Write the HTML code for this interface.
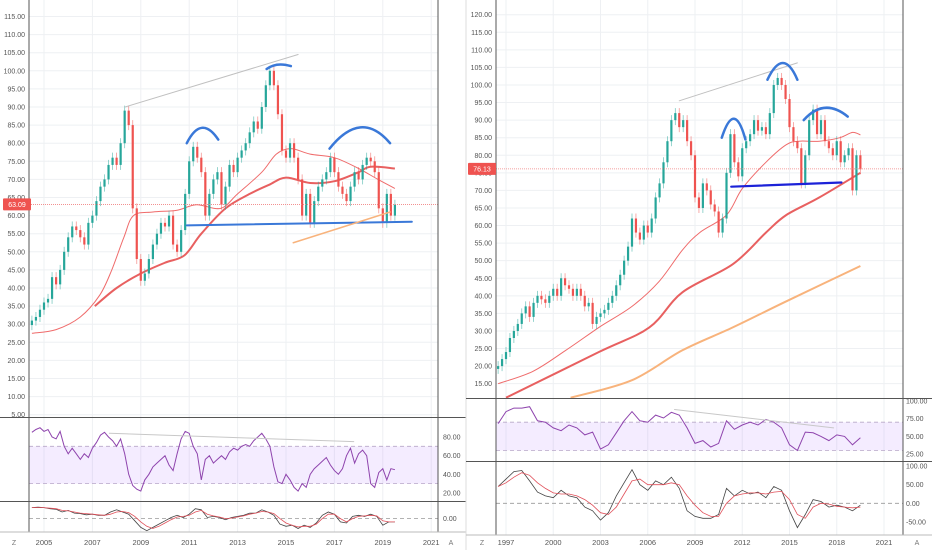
<!DOCTYPE html>
<html><head><meta charset="utf-8"><style>
html,body{margin:0;padding:0;background:#fff;}
svg{display:block;font-family:"Liberation Sans",sans-serif;}
</style></head><body>
<svg id="chart" width="932" height="550" viewBox="0 0 932 550" xmlns="http://www.w3.org/2000/svg">
<defs>
<clipPath id="clipLM"><rect x="29" y="0" width="409" height="417"/></clipPath>
<clipPath id="clipRM"><rect x="496" y="0" width="407" height="398"/></clipPath>
</defs>
</svg>
<script>
// ---------- LEFT PANEL DATA ----------
const leftStart = 2004.5, leftStep = 1/6;
const leftCloses = [31,32,34,36,37,43,41,45,50,54,57,56,54,52,58,60,64,68,70,74,76,74,80,89,85,62,48,42,44,48,52,55,58,57,60,52,50,56,66,75,79,76,72,60,66,70,72,63,68,74,72,76,78,80,83,86,84,90,96,100,96,88,78,76,80,76,70,60,66,58,64,68,70,72,76,72,68,66,64,68,72,70,74,76,75,72,62,58,66,60,63];
const leftPriceTicks = [5,10,15,20,25,30,35,40,45,50,55,60,65,70,75,80,85,90,95,100,105,110,115];
const leftYearTicks = [2005,2007,2009,2011,2013,2015,2017,2019,2021];
const leftMaThinT = [2004.5,2005.5,2006.5,2007.3,2007.8,2008.3,2008.7,2009.5,2010.5,2011.3,2012.3,2013,2014,2014.6,2015.2,2016,2017,2018,2018.8,2019.5];
const leftMaThinV = [27.5,28.5,32,38,45,54,60,61,61.5,63,62,66,72,77,78.5,77,76,73,70,67.5];
const leftMaThickT = [2007.1,2008,2009,2010,2010.8,2011.5,2012.5,2013.5,2014.3,2015,2016,2017,2018,2018.5,2019.5];
const leftMaThickV = [35,40,44,47,49,55,62,66,68.5,70.5,69,69.5,72,73.5,73];
const leftRsi = [85,88,90,86,88,80,78,86,70,62,68,62,56,62,58,68,74,82,85,80,76,70,78,62,40,28,24,22,34,40,48,52,56,60,50,44,62,78,86,84,70,62,34,56,60,52,56,60,56,64,68,66,70,72,70,76,80,84,78,70,48,32,30,40,34,26,22,30,26,40,46,50,54,58,50,44,40,46,60,68,52,62,66,60,30,26,42,46,34,46,45];
const leftRsiTicks = [20,40,60,80];
const leftMacdStart = 2004.5, leftMacdStep = 0.25;
const leftMacd = [1.0,1.05,1.0,0.9,0.85,0.6,0.75,0.5,0.45,0.35,0.4,0.3,0.3,0.6,0.8,0.6,0.4,-0.2,-0.8,-1.1,-0.8,-0.5,-0.2,0.1,0.3,0.1,0.4,0.9,0.8,0.1,0.2,0.1,-0.1,0.1,0.2,0.3,0.5,0.5,0.8,0.6,0.3,-0.5,-0.7,-0.6,-0.9,-0.6,-0.8,-0.4,0.3,0.6,0.4,-0.3,-0.4,0.2,0.3,0.2,0.4,0.2,-0.6,-0.3,-0.3];
const leftSignal = [1.0,1.0,1.0,0.95,0.9,0.75,0.7,0.6,0.5,0.45,0.4,0.35,0.3,0.4,0.6,0.65,0.55,0.2,-0.3,-0.7,-0.9,-0.7,-0.4,-0.1,0.15,0.2,0.3,0.6,0.75,0.4,0.25,0.15,0.0,0.05,0.15,0.25,0.4,0.5,0.65,0.6,0.45,0.0,-0.4,-0.6,-0.75,-0.7,-0.7,-0.5,0.0,0.4,0.4,0.0,-0.3,0.0,0.2,0.25,0.3,0.25,-0.2,-0.3,-0.3];
const leftLastPrice = 63.09;

// ---------- RIGHT PANEL DATA ----------
const rightStart = 1996.5, rightStep = 0.25;
const rightCloses = [20,22,24,28,30,32,35,37,34,38,40,39,38,40,42,40,45,43,42,40,42,40,37,38,32,34,35,36,38,40,43,46,50,54,62,58,56,60,58,62,68,72,78,84,90,92,88,90,84,80,68,65,72,70,66,64,58,62,75,86,78,74,82,84,86,90,87,88,86,92,100,102,100,96,88,84,82,72,80,90,93,86,90,84,82,80,84,78,80,82,70,80,76];
const rightPriceTicks = [15,20,25,30,35,40,45,50,55,60,65,70,75,80,85,90,95,100,105,110,115,120];
const rightYearTicks = [1997,2000,2003,2006,2009,2012,2015,2018,2021];
const rightMaThinT = [1996.5,1998.7,2000.8,2002.9,2005.0,2006.7,2008.2,2009.3,2011.0,2012.0,2013.5,2014.8,2015.6,2016.9,2018.2,2019.0,2019.5];
const rightMaThinV = [15,18.5,24.5,31,37,44,53,58,63,70.5,78,83,84,84,85,86.5,85.8];
const rightMaThickT = [1997,2002.9,2006.1,2008.2,2011.4,2013.5,2014.8,2016.9,2019.5];
const rightMaThickV = [11,24,31,41,49,58,63,68,75];
const rightMaOrangeT = [2001.1,2005.0,2008.2,2011.4,2014.6,2019.5];
const rightMaOrangeV = [11,16,24.5,31,38,48.5];
const rightIndStart = 1996.5, rightIndStep = 0.5;
const rightRsi = [68,85,90,90,92,72,70,62,58,66,62,52,56,32,38,55,72,85,72,70,80,76,84,80,62,40,44,35,40,72,60,66,70,66,74,70,62,38,30,56,55,50,44,52,50,38,48];
const rightRsiTicks = [25,50,75,100];
const rightMacd = [45,65,85,88,60,30,20,15,35,20,15,-10,-20,-45,-25,20,55,90,50,35,60,50,70,40,-20,-35,-40,-40,-30,40,20,35,25,30,15,45,35,-20,-65,-30,10,5,-10,-5,-10,-20,-5];
const rightSignal = [45,55,70,82,75,55,40,28,25,25,20,10,-5,-25,-30,-10,25,60,65,50,50,50,55,50,20,-5,-25,-35,-35,0,20,25,28,28,25,30,32,10,-30,-40,-10,0,-2,-8,-10,-12,-10];
const rightMacdTicks = [-50,0,50,100];
const rightLastPrice = 76.13;

// ---------- AXIS FUNCTIONS ----------
const xL = t => 44 + (t - 2005) * 24.2;
const yL = p => 16.5 + (115 - p) * 3.62;
const rsiL = v => 437 + (80 - v) * 0.933;
const macdL = v => 518.6 - v * 11;
const xR = t => 506 + (t - 1997) * 15.75;
const yR = p => 14.7 + (120 - p) * 3.514;
const rsiR = v => 401 + (100 - v) * 0.707;
const macdR = v => 466 + (100 - v) * 0.3733;

const NS = 'http://www.w3.org/2000/svg';
const svg = document.getElementById('chart');
function mk(tag, attrs, parent) {
  const e = document.createElementNS(NS, tag);
  for (const k in attrs) e.setAttribute(k, attrs[k]);
  (parent || svg).appendChild(e);
  return e;
}
function txt(x, y, s, anchor, color, size, parent) {
  const t = mk('text', {x: x, y: y, 'text-anchor': anchor, fill: color, 'font-size': size}, parent);
  t.textContent = s;
  return t;
}
function smoothPath(ts, vs, fx, fy) {
  const p = ts.map((t, i) => [fx(t), fy(vs[i])]);
  let d = 'M' + p[0][0].toFixed(1) + ',' + p[0][1].toFixed(1);
  for (let i = 0; i < p.length - 1; i++) {
    const p0 = p[Math.max(0, i - 1)], p1 = p[i], p2 = p[i + 1], p3 = p[Math.min(p.length - 1, i + 2)];
    const c1x = p1[0] + (p2[0] - p0[0]) / 6, c1y = p1[1] + (p2[1] - p0[1]) / 6;
    const c2x = p2[0] - (p3[0] - p1[0]) / 6, c2y = p2[1] - (p3[1] - p1[1]) / 6;
    d += ` C${c1x.toFixed(1)},${c1y.toFixed(1)} ${c2x.toFixed(1)},${c2y.toFixed(1)} ${p2[0].toFixed(1)},${p2[1].toFixed(1)}`;
  }
  return d;
}

// ---------- GRID ----------
const grid = mk('g', {stroke: '#eef0f3', 'stroke-width': 1});


leftPriceTicks.forEach(p => mk('line', {x1: 29, x2: 438, y1: yL(p), y2: yL(p)}, grid));
leftYearTicks.forEach(y => mk('line', {x1: xL(y), x2: xL(y), y1: 0, y2: 532}, grid));
rightPriceTicks.forEach(p => mk('line', {x1: 496, x2: 903, y1: yR(p), y2: yR(p)}, grid));
rightYearTicks.forEach(y => mk('line', {x1: xR(y), x2: xR(y), y1: 0, y2: 535}, grid));

// ---------- RSI BANDS ----------
function rsiBand(x1, x2, fy, name) {
  const g = mk('g', {});
  
  
  mk('rect', {x: x1, y: fy(70), width: x2 - x1, height: fy(30) - fy(70), fill: 'rgba(170,110,255,0.13)'}, g);
  mk('line', {x1: x1, x2: x2, y1: fy(70), y2: fy(70), stroke: '#b8a8c8', 'stroke-dasharray': '4,3', 'stroke-width': 0.8}, g);
  mk('line', {x1: x1, x2: x2, y1: fy(30), y2: fy(30), stroke: '#b8a8c8', 'stroke-dasharray': '4,3', 'stroke-width': 0.8}, g);
}
rsiBand(29, 438, rsiL, 'left-rsi-band');
rsiBand(496, 903, rsiR, 'right-rsi-band');
const z1 = mk('line', {x1: 29, x2: 438, y1: macdL(0), y2: macdL(0), stroke: '#999', 'stroke-dasharray': '4,3', 'stroke-width': 0.8});

const z2 = mk('line', {x1: 496, x2: 903, y1: macdR(0), y2: macdR(0), stroke: '#999', 'stroke-dasharray': '4,3', 'stroke-width': 0.8});


// ---------- CANDLES ----------
function candles(closes, start, step, fx, fy, w, clip, name) {
  const g = mk('g', {'clip-path': 'url(#' + clip + ')'});
  
  
  closes.forEach((c, i) => {
    const o = i === 0 ? c * 0.96 : closes[i - 1];
    const x = fx(start + i * step);
    const up = c >= o;
    const col = up ? '#26a69a' : '#ef5350';
    const yt = fy(Math.max(o, c)), yb = fy(Math.min(o, c));
    mk('line', {x1: x, x2: x, y1: yt - 5, y2: yb + 5, stroke: col, 'stroke-width': 0.8, opacity: 0.6}, g);
    const body = mk('rect', {x: x - w / 2, y: yt, width: w, height: Math.max(1, yb - yt), fill: col});
    g.appendChild(body);
    
    
  });
}

const lma1 = mk('path', {d: smoothPath(leftMaThinT, leftMaThinV, xL, yL), fill: 'none', stroke: '#ef6b6b', 'stroke-width': 1, 'clip-path': 'url(#clipLM)'});

const lma2 = mk('path', {d: smoothPath(leftMaThickT, leftMaThickV, xL, yL), fill: 'none', stroke: '#e86060', 'stroke-width': 2, 'clip-path': 'url(#clipLM)'});

const rma1 = mk('path', {d: smoothPath(rightMaThinT, rightMaThinV, xR, yR), fill: 'none', stroke: '#ef6b6b', 'stroke-width': 1, 'clip-path': 'url(#clipRM)'});

const rma2 = mk('path', {d: smoothPath(rightMaThickT, rightMaThickV, xR, yR), fill: 'none', stroke: '#e86060', 'stroke-width': 2, 'clip-path': 'url(#clipRM)'});

const rma3 = mk('path', {d: smoothPath(rightMaOrangeT, rightMaOrangeV, xR, yR), fill: 'none', stroke: '#f8b37c', 'stroke-width': 2, 'clip-path': 'url(#clipRM)'});


candles(leftCloses, leftStart, leftStep, xL, yL, 2.2, 'clipLM', 'left-candles');
candles(rightCloses, rightStart, rightStep, xR, yR, 2.2, 'clipRM', 'right-candles');

// ---------- LAST PRICE LINES ----------
const lp1 = mk('line', {x1: 29, x2: 438, y1: yL(leftLastPrice), y2: yL(leftLastPrice), stroke: '#f08080', 'stroke-width': 0.8, 'stroke-dasharray': '1,1'});

const lp2 = mk('line', {x1: 496, x2: 903, y1: yR(rightLastPrice), y2: yR(rightLastPrice), stroke: '#f08080', 'stroke-width': 0.8, 'stroke-dasharray': '1,1'});


// ---------- DRAWINGS ----------
function ln(x1, y1, x2, y2, col, w, name) {
  const l = mk('line', {x1: x1, y1: y1, x2: x2, y2: y2, stroke: col, 'stroke-width': w, 'stroke-linecap': 'round'});
  
  
}
function arc(x1, y1, cx, cy, x2, y2, name) {
  const p = mk('path', {d: `M${x1},${y1} Q${cx},${cy} ${x2},${y2}`, fill: 'none', stroke: '#3a78d8', 'stroke-width': 2.5, 'stroke-linecap': 'round'});
  
  
}
ln(xL(2008.35), yL(90), xL(2015.5), yL(104.5), '#c0c0c0', 1, 'left-trend-line');
ln(xL(2010.9), yL(57.3), xL(2020.2), yL(58.3), '#3a78d8', 2, 'left-neckline');
ln(xL(2015.3), yL(52.5), xL(2019.3), yL(61), '#f8b37c', 1.5, 'left-support-line');
arc(xL(2010.9), yL(80), xL(2011.5), yL(88), xL(2012.2), yL(81), 'left-shoulder-arc');
arc(xL(2014.2), yL(100.5), xL(2014.6), yL(102.5), xL(2015.2), yL(101.3), 'left-head-arc');
arc(xL(2016.8), yL(78.5), xL(2018.1), yL(89.5), xL(2019.3), yL(80), 'right-shoulder-arc');
ln(xR(2008.0), yR(95.5), xR(2015.5), yR(106.3), '#c0c0c0', 1, 'right-trend-line');
ln(xR(2011.3), yR(71.05), xR(2018.3), yR(72.25), '#1c22d8', 2.2, 'right-neckline');
arc(xR(2010.7), yR(85), xR(2011.5), yR(96), xR(2012.2), yR(84.5), 'right-left-shoulder-arc');
arc(xR(2013.6), yR(101.5), xR(2014.6), yR(111), xR(2015.5), yR(101.5), 'right-head-arc');
arc(xR(2015.9), yR(90), xR(2017.2), yR(96.5), xR(2018.7), yR(91), 'right-right-shoulder-arc');

// ---------- RSI / MACD LINES ----------
function seriesPts(vals, start, step, fx, fy) {
  return vals.map((v, i) => fx(start + i * step).toFixed(1) + ',' + fy(v).toFixed(1)).join(' ');
}
const r1 = mk('polyline', {points: seriesPts(leftRsi, leftStart, leftStep, xL, rsiL), fill: 'none', stroke: '#8e44ad', 'stroke-width': 1});

ln(xL(2007.7), rsiL(84), xL(2017.8), rsiL(75), '#c8c8c8', 1, 'left-rsi-trend-line');
const m1 = mk('polyline', {points: seriesPts(leftMacd, leftMacdStart, leftMacdStep, xL, macdL), fill: 'none', stroke: '#444', 'stroke-width': 0.8});

const s1 = mk('polyline', {points: seriesPts(leftSignal, leftMacdStart, leftMacdStep, xL, macdL), fill: 'none', stroke: '#e0505a', 'stroke-width': 0.8});

const r2 = mk('polyline', {points: seriesPts(rightRsi, rightIndStart, rightIndStep, xR, rsiR), fill: 'none', stroke: '#8e44ad', 'stroke-width': 1});

ln(xR(2007.7), rsiR(88), xR(2017.8), rsiR(62), '#c8c8c8', 1, 'right-rsi-trend-line');
const m2 = mk('polyline', {points: seriesPts(rightMacd, rightIndStart, rightIndStep, xR, macdR), fill: 'none', stroke: '#444', 'stroke-width': 0.8});

const s2 = mk('polyline', {points: seriesPts(rightSignal, rightIndStart, rightIndStep, xR, macdR), fill: 'none', stroke: '#e0505a', 'stroke-width': 0.8});


// ---------- FRAMES ----------
const frames = mk('g', {stroke: '#555', 'stroke-width': 1});

mk('line', {x1: 29, x2: 29, y1: 0, y2: 532}, frames);
mk('line', {x1: 438, x2: 438, y1: 0, y2: 532}, frames);
mk('line', {x1: 0, x2: 466, y1: 417.5, y2: 417.5}, frames);
mk('line', {x1: 0, x2: 466, y1: 501.5, y2: 501.5}, frames);
mk('line', {x1: 0, x2: 466, y1: 532, y2: 532, stroke: '#bbb'}, frames);
mk('line', {x1: 466, x2: 466, y1: 0, y2: 550, stroke: '#ddd'}, frames);
mk('line', {x1: 496, x2: 496, y1: 0, y2: 535}, frames);
mk('line', {x1: 903, x2: 903, y1: 0, y2: 535}, frames);
mk('line', {x1: 466, x2: 932, y1: 398.5, y2: 398.5}, frames);
mk('line', {x1: 466, x2: 932, y1: 461.5, y2: 461.5}, frames);
mk('line', {x1: 466, x2: 932, y1: 535, y2: 535, stroke: '#bbb'}, frames);

// ---------- AXIS LABELS ----------
const la = mk('g', {});

leftPriceTicks.forEach(p => txt(25, yL(p) + 2.5, p.toFixed(2), 'end', '#555', 7, la));
const ra = mk('g', {});

rightPriceTicks.forEach(p => txt(492, yR(p) + 2.5, p.toFixed(2), 'end', '#555', 7, ra));
const lr = mk('g', {});

leftRsiTicks.forEach(v => txt(443, rsiL(v) + 2.5, v.toFixed(2), 'start', '#555', 7, lr));
txt(443, macdL(0) + 2.5, '0.00', 'start', '#555', 7, lr);
const rr = mk('g', {});

rightRsiTicks.forEach(v => txt(906, rsiR(v) + 2.5, v.toFixed(2), 'start', '#555', 7, rr));
rightMacdTicks.forEach(v => txt(906, macdR(v) + 2.5, v.toFixed(2), 'start', '#555', 7, rr));
const lt = mk('g', {});

leftYearTicks.forEach(y => txt(xL(y), 545, String(y), 'middle', '#555', 7.5, lt));
const rt = mk('g', {});

rightYearTicks.forEach(y => txt(xR(y), 545, String(y), 'middle', '#555', 7.5, rt));

function priceTag(x, y, s, name) {
  const g = mk('g', {});
  
  
  mk('rect', {x: x, y: y - 6, width: 28, height: 12, fill: '#ef5350', rx: 1}, g);
  txt(x + 14, y + 2.5, s, 'middle', '#fff', 7, g);
}
priceTag(3, yL(leftLastPrice), leftLastPrice.toFixed(2), 'left-last-price-label');
priceTag(468, yR(rightLastPrice), rightLastPrice.toFixed(2), 'right-last-price-label');

function btn(x, s, name) {
  const t = txt(x, 545, s, 'middle', '#777', 7, svg);
  
  
}
btn(14, 'Z', 'left-zoom-button');
btn(451, 'A', 'left-auto-scale-button');
btn(482, 'Z', 'right-zoom-button');
btn(917, 'A', 'right-auto-scale-button');
</script>
</body></html>
